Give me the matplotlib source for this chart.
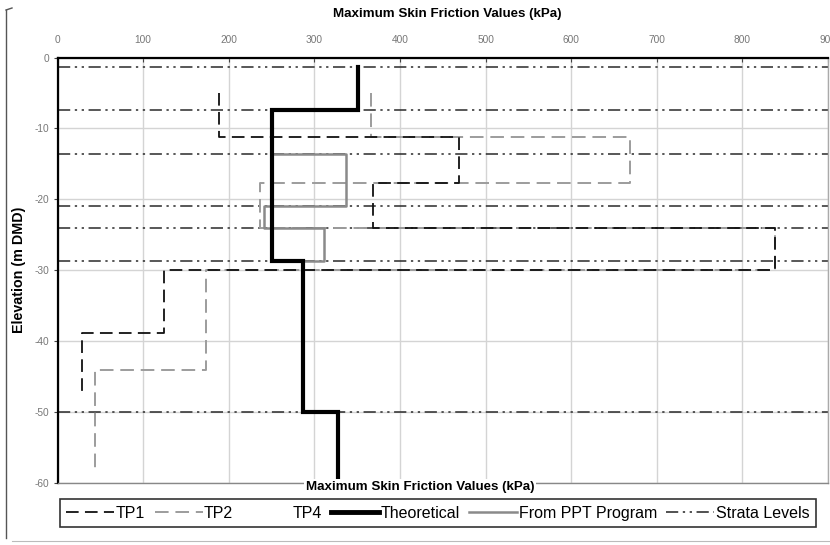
#!/usr/bin/env python3
"""Maximum skin friction vs elevation — step profiles for TP1/TP2, theoretical and PPT."""

import matplotlib
matplotlib.use("Agg")
import matplotlib.pyplot as plt
import numpy as np
from matplotlib.lines import Line2D

plt.rcParams["font.family"] = ["Liberation Sans", "DejaVu Sans"]
plt.rcParams["axes.unicode_minus"] = False

# layer boundaries (m DMD) and skin friction per layer (kPa)
TP1_DEPTH = [-5.0, -11.2, -17.7, -24.0, -29.9, -38.8, -47.3]
TP1_VALS = [189, 469, 368, 838, 124, 29]
TP2_DEPTH = [-5.0, -11.2, -17.7, -24.0, -29.9, -44.1, -57.9]
TP2_VALS = [366, 669, 237, 838, 173, 44]
THEO_DEPTH = [-1.3, -7.4, -28.7, -50.0, -59.2]
THEO_VALS = [351, 250, 287, 328]
PPT_DEPTH = [-1.3, -7.4, -13.6, -21.0, -24.0, -28.7, -50.0, -59.2]
PPT_VALS = [351, 250, 337, 241, 311, 287, 328]
STRATA = [-1.3, -7.4, -13.6, -20.9, -24.0, -28.7, -50.0]

XTICKS = list(range(0, 901, 100))
YTICKS = list(range(0, -61, -10))
XLABEL = "Maximum Skin Friction Values (kPa)"

DASH = (0, (7, 3.5))
DASHDOTDOT = (0, (8, 3, 1.5, 3, 1.5, 3))


def step_xy(depths, vals):
    xs = np.repeat(vals, 2)
    ys = np.column_stack([depths[:-1], depths[1:]]).ravel()
    return xs, ys


fig = plt.figure(figsize=(8.3, 5.45), dpi=100)
W, H = 830, 545
ax = fig.add_axes([57.5 / W, 1 - 483 / H, (828 - 57.5) / W, (483 - 57.5) / H])

ax.set_xlim(0, 900)
ax.set_ylim(-60, 0)
ax.set_xticks(XTICKS)
ax.set_yticks(YTICKS)
ax.xaxis.tick_top()
ax.tick_params(axis="x", direction="in", length=3, pad=9, labelsize=7.3, labelcolor="#777777",
               color="#444444")
ax.tick_params(axis="y", direction="out", length=3, pad=3, labelsize=7.3, labelcolor="#777777",
               color="#444444")
ax.grid(color="#d4d4d4", linewidth=1.0)
ax.set_axisbelow(True)

ax.spines["top"].set_linewidth(1.6)
ax.spines["left"].set_linewidth(1.6)
ax.spines["bottom"].set_color("#888888")
ax.spines["right"].set_color("#aaaaaa")
ax.spines["bottom"].set_linewidth(1.0)
ax.spines["right"].set_linewidth(1.0)

for s in STRATA:
    ax.axhline(s, color="#2a2a2a", linewidth=1.1, linestyle=DASHDOTDOT, zorder=2)

x, y = step_xy(TP2_DEPTH, TP2_VALS)
ax.plot(x, y, color="#9c9c9c", linewidth=1.4, linestyle=DASH, zorder=3)
x, y = step_xy(TP1_DEPTH, TP1_VALS)
ax.plot(x, y, color="#111111", linewidth=1.3, linestyle=DASH, zorder=4)
x, y = step_xy(PPT_DEPTH, PPT_VALS)
ax.plot(x, y, color="#8a8a8a", linewidth=1.8, zorder=5)
x, y = step_xy(THEO_DEPTH, THEO_VALS)
ax.plot(x, y, color="black", linewidth=3.0, zorder=6, solid_joinstyle="miter")

# titles
fig.text(447 / W, 1 - 14 / H, XLABEL, ha="center", va="center", fontsize=9.6,
         fontweight="bold")
fig.text(19 / W, 1 - 270 / H, "Elevation (m DMD)", ha="center", va="center",
         rotation=90, fontsize=10.3, fontweight="bold")
fig.text(420 / W, 1 - 487 / H, XLABEL, ha="center", va="center", fontsize=9.6,
         fontweight="bold", zorder=10,
         bbox=dict(facecolor="white", edgecolor="none", pad=1.5))

# legend
handles = [
    Line2D([], [], color="#111111", linewidth=1.3, linestyle=DASH),
    Line2D([], [], color="#9c9c9c", linewidth=1.4, linestyle=DASH),
    Line2D([], [], color="none"),
    Line2D([], [], color="black", linewidth=3.5),
    Line2D([], [], color="#8a8a8a", linewidth=1.8),
    Line2D([], [], color="#222222", linewidth=1.1, linestyle=DASHDOTDOT),
]
labels = ["TP1", "TP2", "TP4", "Theoretical", "From PPT Program", "Strata Levels"]
leg = fig.legend(handles, labels, loc="lower left", ncol=6, mode="expand",
                 bbox_to_anchor=(60 / W, 1 - 527 / H, (816 - 60) / W, 30 / H),
                 borderaxespad=0, fontsize=11.5, handlelength=3.0, handletextpad=0.1,
                 columnspacing=0.6, frameon=True, fancybox=False)
leg.get_frame().set_edgecolor("black")
leg.get_frame().set_linewidth(1.2)

# scan border on the left and bottom
fig.add_artist(Line2D([6 / W, 6 / W], [1 - 10 / H, 1 - 538 / H], color="#555555",
                      linewidth=1.0, transform=fig.transFigure))
fig.add_artist(Line2D([6 / W, 12 / W], [1 - 10 / H, 1 - 8 / H], color="#555555",
                      linewidth=1.0, transform=fig.transFigure))
fig.add_artist(Line2D([12 / W, 830 / W], [1 - 541 / H, 1 - 541 / H], color="#bbbbbb",
                      linewidth=0.8, transform=fig.transFigure))

fig.savefig("out.png", dpi=100)
